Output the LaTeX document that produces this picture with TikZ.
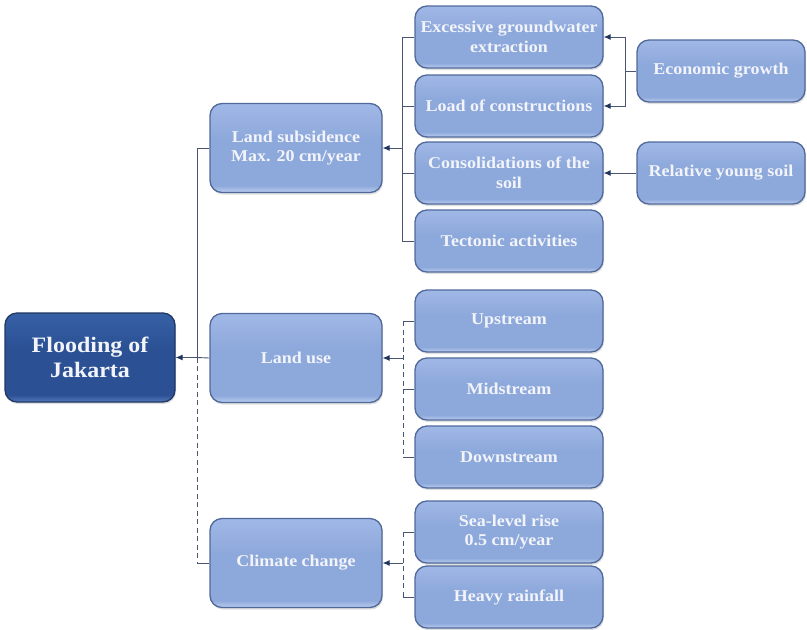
\documentclass[tikz,border=0pt]{standalone}
\usepackage{fontspec}
\setmainfont{Liberation Serif}[FakeStretch=1.09]
\usetikzlibrary{arrows.meta,shadows}
\definecolor{boxtop}{HTML}{A0B8E6}
\definecolor{boxmid}{HTML}{8DA8DB}
\definecolor{boxbot}{HTML}{BBCDEF}
\definecolor{boxline}{HTML}{50699A}
\definecolor{maintop}{HTML}{3760A6}
\definecolor{mainmid}{HTML}{2B5194}
\definecolor{mainbot}{HTML}{5379BA}
\definecolor{mainline}{HTML}{1F3864}
\definecolor{conn}{HTML}{4A5570}
\definecolor{tipc}{HTML}{1F3460}
\definecolor{txt}{HTML}{F2F4FA}
\pgfdeclareverticalshading{lightbevel}{100bp}{color(0bp)=(boxbot); color(25bp)=(boxbot); color(29bp)=(boxmid); color(55bp)=(boxmid); color(75bp)=(boxtop); color(100bp)=(boxtop)}
\pgfdeclareverticalshading{darkbevel}{100bp}{color(0bp)=(mainbot); color(25bp)=(mainbot); color(29bp)=(mainmid); color(55bp)=(mainmid); color(75bp)=(maintop); color(100bp)=(maintop)}
\tikzset{
  boxbase/.style={rounded corners=12pt, draw=boxline, line width=1.3pt,
    shading=lightbevel,
    text=txt, font=\bfseries\fontsize{16.5}{19.5}\selectfont, align=center,
    inner sep=2pt, drop shadow={opacity=0.25, shadow xshift=1pt, shadow yshift=-2pt}},
  child/.style={boxbase, minimum width=188pt, minimum height=62pt},
  mid/.style={boxbase, minimum width=172pt, minimum height=89pt},
  far/.style={boxbase, minimum width=168pt, minimum height=62pt},
  mainbox/.style={boxbase, draw=mainline, shading=darkbevel,
    minimum width=170pt, minimum height=89pt, font=\bfseries\fontsize{22}{25}\selectfont},
  conline/.style={draw=conn, line width=0.9pt},
  arr/.style={conline, -{Latex[length=7pt,width=6pt,fill=tipc,color=tipc]}},
  dsh/.style={conline, dash pattern=on 5pt off 3.5pt}
}
\begin{document}
\begin{tikzpicture}[x=1pt,y=-1pt]
\useasboundingbox (0,0) rectangle (807,630);
% nodes
\node[mainbox] (main) at (90,357.5) {Flooding of\\Jakarta};
\node[mid] (ls) at (296,148) {Land subsidence\\Max. 20 cm/year};
\node[mid] (lu) at (296,358) {Land use};
\node[mid] (cc) at (296,563) {Climate change};
\node[child] (exc) at (509,37) {Excessive groundwater\\extraction};
\node[child] (load) at (509,106) {Load of constructions};
\node[child] (cons) at (509,173) {Consolidations of the\\soil};
\node[child] (tect) at (509,241) {Tectonic activities};
\node[child] (up) at (509,321) {Upstream};
\node[child] (midst) at (509,389) {Midstream};
\node[child] (down) at (509,457) {Downstream};
\node[child] (sea) at (509,532) {Sea-level rise\\0.5 cm/year};
\node[child] (rain) at (509,597) {Heavy rainfall};
\node[far] (eco) at (721,71) {Economic growth};
\node[far] (rys) at (721,173) {Relative young soil};
% bus coordinates
\coordinate (b1) at (197,357.5);
\coordinate (b2) at (402,148);
\coordinate (b3) at (403,358);
\coordinate (b4) at (403,563);
\coordinate (b5) at (625,71);
% main bus
\draw[conline] (ls.west) -| (b1);
\draw[conline] (lu.west) -- (b1);
\draw[dsh] (b1) -- (cc.west -| b1);
\draw[conline] (cc.west -| b1) -- (cc.west);
\draw[arr] (b1) -- (main.east);
% land subsidence bus
\draw[conline] (exc.west) -| (b2);
\draw[conline] (tect.west) -| (b2);
\draw[conline] (load.west) -- (load.west -| b2);
\draw[conline] (cons.west) -- (cons.west -| b2);
\draw[arr] (b2) -- (ls.east);
% land use bus
\draw[dsh] (up.west -| b3) -- (down.west -| b3);
\draw[conline] (up.west) -- (up.west -| b3);
\draw[conline] (midst.west) -- (midst.west -| b3);
\draw[conline] (down.west) -- (down.west -| b3);
\draw[arr] (b3) -- (lu.east);
% climate bus
\draw[dsh] (sea.west -| b4) -- (rain.west -| b4);
\draw[conline] (sea.west) -- (sea.west -| b4);
\draw[conline] (rain.west) -- (rain.west -| b4);
\draw[arr] (b4) -- (cc.east);
% economic growth
\draw[conline] (eco.west) -- (b5);
\draw[arr] (b5) |- (exc.east);
\draw[arr] (b5) |- (load.east);
% relative young soil
\draw[arr] (rys.west) -- (cons.east);
\end{tikzpicture}
\end{document}
